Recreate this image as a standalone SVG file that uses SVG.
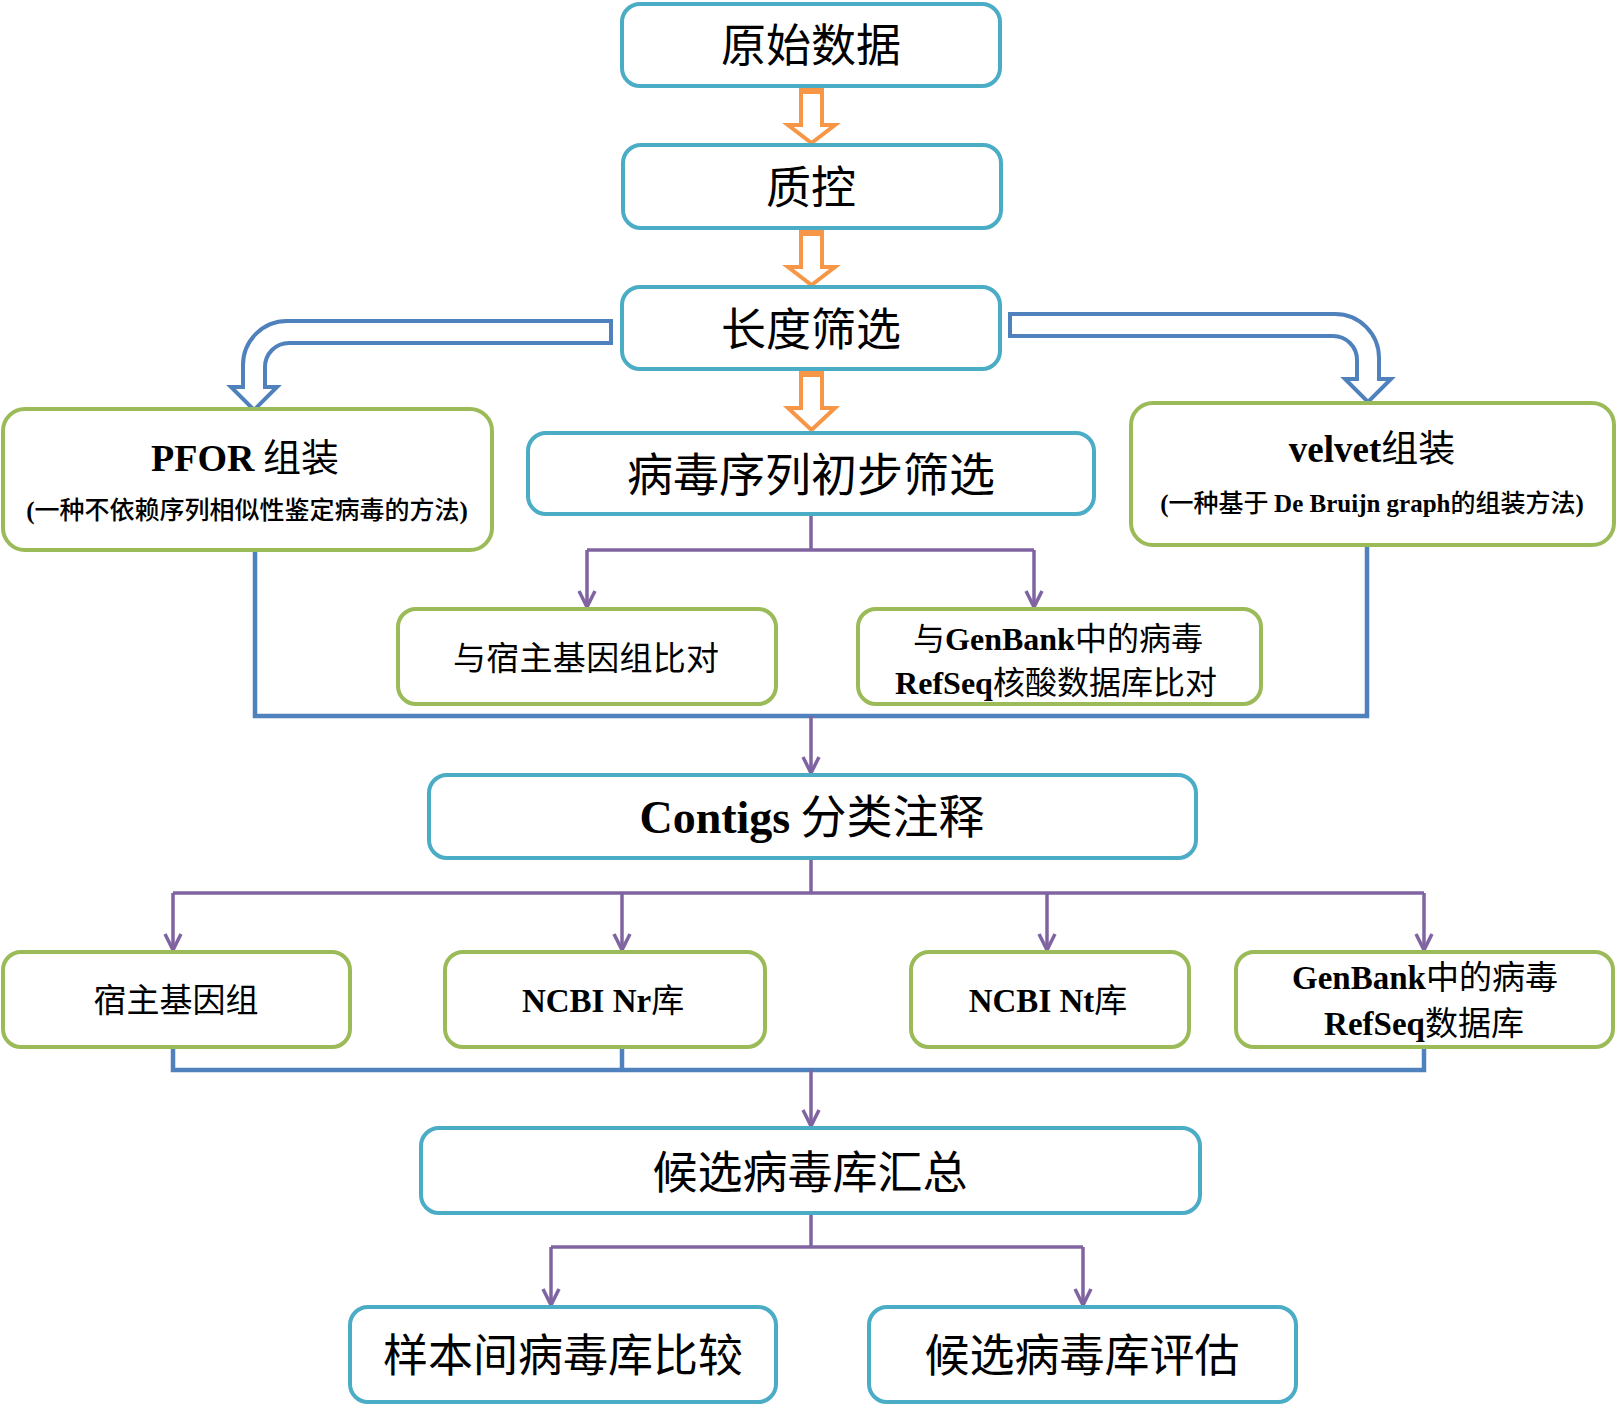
<svg xmlns="http://www.w3.org/2000/svg" width="1616" height="1406" viewBox="0 0 1616 1406">
  <style>
    .box { fill: #ffffff; stroke-width: 4; }
    .cyan { stroke: #4BACC6; }
    .green { stroke: #9BBB59; }
    .t { fill: #000000; text-anchor: middle; font-family: "Noto Sans CJK SC", "Liberation Serif", sans-serif; font-weight: 400; }
    .lat { font-family: "Liberation Serif", "Noto Sans CJK SC", serif; font-weight: 700; }
    .sub { font-weight: 500; }
    .purple { fill: none; stroke: #8064A2; stroke-width: 3.5; }
    .blue { fill: none; stroke: #4F81BD; stroke-width: 4.5; }
    .block-o { fill: #ffffff; stroke: #F79646; stroke-width: 4; stroke-linejoin: miter; }
    .block-b { fill: #ffffff; stroke: #4F81BD; stroke-width: 4; stroke-linejoin: miter; }
  </style>
  <defs>
    <marker id="chev" markerUnits="userSpaceOnUse" markerWidth="24" markerHeight="24" viewBox="-20 -12 24 24" refX="0" refY="0" orient="auto">
      <path d="M-16,-8 L0,0 L-16,8" fill="none" stroke="#8064A2" stroke-width="3.5"/>
    </marker>
  </defs>

  <!-- connectors -->
  <g id="connectors">
    <!-- orange block arrows along the main flow -->
    <g id="down-1">
      <path class="block-o" d="M801,86 L822,86 L822,125 L835,125 L811.5,143 L788,125 L801,125 Z"/>
      <rect x="801" y="84" width="21" height="10" fill="#F79646"/>
    </g>
    <g id="down-2">
      <path class="block-o" d="M801,228 L822,228 L822,267 L835,267 L811.5,285 L788,267 L801,267 Z"/>
      <rect x="801" y="226" width="21" height="10" fill="#F79646"/>
    </g>
    <g id="down-3">
      <path class="block-o" d="M801,369 L822,369 L822,408 L835,408 L811.5,430 L788,408 L801,408 Z"/>
      <rect x="801" y="367" width="21" height="10" fill="#F79646"/>
    </g>

    <!-- bent block arrows to the two assemblers -->
    <path class="block-b" d="M611,321 L287,321 A44,44 0 0 0 243,365 L243,387 L231,387 L254,410 L277,387 L265,387 L265,367 A24,24 0 0 1 289,343 L611,343 Z"/>
    <path class="block-b" d="M1010,314 L1335,314 A44,44 0 0 1 1379,358 L1379,379 L1391,379 L1368,402 L1345,379 L1357,379 L1357,360 A24,24 0 0 0 1333,336 L1010,336 Z"/>

    <!-- preliminary screening split -->
    <path class="purple" d="M811,514 L811,550"/>
    <path class="purple" d="M587,550 L1034,550"/>
    <path class="purple" d="M587,550 L587,607" marker-end="url(#chev)"/>
    <path class="purple" d="M1034,550 L1034,607" marker-end="url(#chev)"/>

    <!-- merge into contig annotation -->
    <path class="blue" d="M255,550 L255,716 L1367,716 L1367,545"/>
    <path class="purple" d="M811,716 L811,773" marker-end="url(#chev)"/>

    <!-- annotation split to databases -->
    <path class="purple" d="M811,858 L811,893"/>
    <path class="purple" d="M173,893 L1424,893"/>
    <path class="purple" d="M173,893 L173,950" marker-end="url(#chev)"/>
    <path class="purple" d="M622,893 L622,950" marker-end="url(#chev)"/>
    <path class="purple" d="M1047,893 L1047,950" marker-end="url(#chev)"/>
    <path class="purple" d="M1424,893 L1424,950" marker-end="url(#chev)"/>

    <!-- merge into candidate summary -->
    <path class="blue" d="M173,1047 L173,1070 L1424,1070 L1424,1047"/>
    <path class="blue" d="M622,1047 L622,1070"/>
    <path class="purple" d="M811,1070 L811,1126" marker-end="url(#chev)"/>

    <!-- final split -->
    <path class="purple" d="M811,1213 L811,1247"/>
    <path class="purple" d="M551,1247 L1083,1247"/>
    <path class="purple" d="M551,1247 L551,1305" marker-end="url(#chev)"/>
    <path class="purple" d="M1083,1247 L1083,1305" marker-end="url(#chev)"/>
  </g>

  <!-- nodes -->
  <g id="raw-data">
    <rect class="box cyan" x="622" y="4" width="378" height="82" rx="18"/>
    <text class="t" x="811" y="62" font-size="45">原始数据</text>
  </g>
  <g id="qc">
    <rect class="box cyan" x="623" y="145" width="378" height="83" rx="18"/>
    <text class="t" x="811" y="204" font-size="45">质控</text>
  </g>
  <g id="length-filter">
    <rect class="box cyan" x="622" y="287" width="378" height="82" rx="18"/>
    <text class="t" x="811" y="346" font-size="45">长度筛选</text>
  </g>
  <g id="pfor">
    <rect class="box green" x="3" y="409" width="489" height="141" rx="22"/>
    <text class="t" x="245" y="471" font-size="38"><tspan class="lat">PFOR</tspan>  组装</text>
    <text class="t sub" x="247" y="519" font-size="25"><tspan class="lat">(</tspan>一种不依赖序列相似性鉴定病毒的方法<tspan class="lat">)</tspan></text>
  </g>
  <g id="virus-prescreen">
    <rect class="box cyan" x="528" y="433" width="566" height="81" rx="18"/>
    <text class="t" x="811" y="491" font-size="46">病毒序列初步筛选</text>
  </g>
  <g id="velvet">
    <rect class="box green" x="1131" y="403" width="483" height="142" rx="22"/>
    <text class="t" x="1372" y="462" font-size="37"><tspan class="lat">velvet</tspan>组装</text>
    <text class="t sub" x="1372" y="512" font-size="25"><tspan class="lat">(</tspan>一种基于 <tspan class="lat">De Bruijn graph</tspan>的组装方法<tspan class="lat">)</tspan></text>
  </g>
  <g id="host-align">
    <rect class="box green" x="398" y="609" width="378" height="95" rx="18"/>
    <text class="t" x="586" y="670" font-size="33" textLength="266" lengthAdjust="spacing">与宿主基因组比对</text>
  </g>
  <g id="genbank-align">
    <rect class="box green" x="858" y="609" width="403" height="95" rx="18"/>
    <text class="t" x="1058" y="650" font-size="32">与<tspan class="lat">GenBank</tspan>中的病毒</text>
    <text class="t" x="1056" y="694" font-size="32"><tspan class="lat">RefSeq</tspan>核酸数据库比对</text>
  </g>
  <g id="contigs">
    <rect class="box cyan" x="429" y="775" width="767" height="83" rx="18"/>
    <text class="t" x="812" y="833" font-size="46"><tspan class="lat">Contigs</tspan> 分类注释</text>
  </g>
  <g id="host-genome">
    <rect class="box green" x="3" y="952" width="347" height="95" rx="18"/>
    <text class="t" x="176" y="1012" font-size="33">宿主基因组</text>
  </g>
  <g id="ncbi-nr">
    <rect class="box green" x="445" y="952" width="320" height="95" rx="18"/>
    <text class="t" x="603" y="1012" font-size="33"><tspan class="lat">NCBI Nr</tspan>库</text>
  </g>
  <g id="ncbi-nt">
    <rect class="box green" x="911" y="952" width="278" height="95" rx="18"/>
    <text class="t" x="1048" y="1012" font-size="33"><tspan class="lat">NCBI Nt</tspan>库</text>
  </g>
  <g id="genbank-refseq">
    <rect class="box green" x="1236" y="952" width="377" height="95" rx="18"/>
    <text class="t" x="1425" y="989" font-size="33"><tspan class="lat">GenBank</tspan>中的病毒</text>
    <text class="t" x="1424" y="1035" font-size="33"><tspan class="lat">RefSeq</tspan>数据库</text>
  </g>
  <g id="candidate-summary">
    <rect class="box cyan" x="421" y="1128" width="779" height="85" rx="18"/>
    <text class="t" x="810" y="1189" font-size="45">候选病毒库汇总</text>
  </g>
  <g id="sample-compare">
    <rect class="box cyan" x="350" y="1307" width="426" height="95" rx="18"/>
    <text class="t" x="563" y="1372" font-size="45">样本间病毒库比较</text>
  </g>
  <g id="candidate-eval">
    <rect class="box cyan" x="869" y="1307" width="427" height="95" rx="18"/>
    <text class="t" x="1082" y="1372" font-size="45">候选病毒库评估</text>
  </g>
</svg>
